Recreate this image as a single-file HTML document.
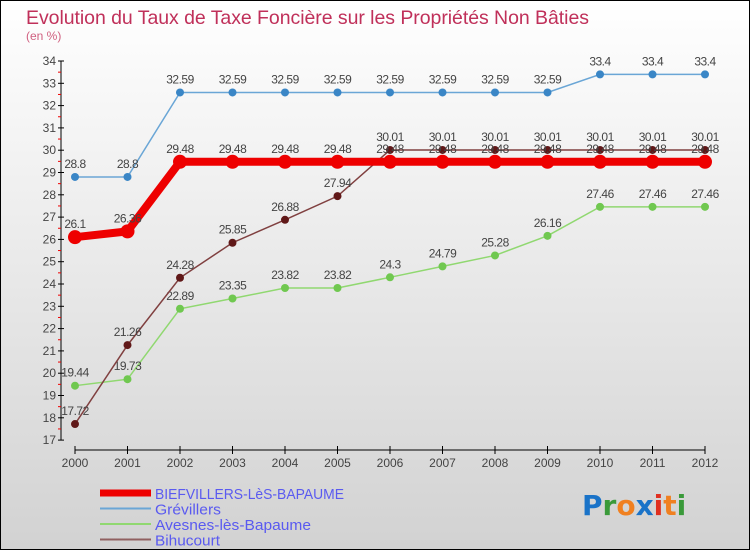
<!DOCTYPE html>
<html><head><meta charset="utf-8"><style>
body{margin:0}
#c{width:750px;height:550px;position:relative;font-family:"Liberation Sans",sans-serif;}
</style></head><body>
<div id="c">
<svg id="s" width="750" height="550" xmlns="http://www.w3.org/2000/svg">
<defs><linearGradient id="bg" x1="0" y1="0" x2="0" y2="1"><stop offset="0" stop-color="#ffffff"/><stop offset="1" stop-color="#d2d2d2"/></linearGradient></defs>
<rect x="0.5" y="0.5" width="749" height="549" fill="url(#bg)" stroke="#000"/>
<text x="26" y="24" font-size="19.5" fill="#c0305a" textLength="563">Evolution du Taux de Taxe Foncière sur les Propriétés Non Bâties</text>
<text x="26" y="40" font-size="12" fill="#d06080">(en %)</text>
<g id="axes"></g><g id="series"></g><g id="legend"></g>
<text x="582" y="515" font-size="28" font-weight="bold" font-family="DejaVu Sans,sans-serif"><tspan fill="#1a73c8">P</tspan><tspan fill="#3a9a3a">r</tspan><tspan fill="#f08020">o</tspan><tspan fill="#1a73c8">x</tspan><tspan fill="#e03020">i</tspan><tspan fill="#f08020">t</tspan><tspan fill="#3a9a3a">i</tspan></text>
</svg></div>
<script>
const years=[2000,2001,2002,2003,2004,2005,2006,2007,2008,2009,2010,2011,2012];
const biefvillers=[26.1,26.36,29.48,29.48,29.48,29.48,29.48,29.48,29.48,29.48,29.48,29.48,29.48];
const grevillers=[28.8,28.8,32.59,32.59,32.59,32.59,32.59,32.59,32.59,32.59,33.4,33.4,33.4];
const avesnes=[19.44,19.73,22.89,23.35,23.82,23.82,24.3,24.79,25.28,26.16,27.46,27.46,27.46];
const bihucourt=[17.72,21.26,24.28,25.85,26.88,27.94,30.01,30.01,30.01,30.01,30.01,30.01,30.01];
const yTicks=[17,18,19,20,21,22,23,24,25,26,27,28,29,30,31,32,33,34];
const NS="http://www.w3.org/2000/svg";
const X=i=>75+i*52.5, Y=v=>61+(34-v)*22.3;
function mk(p,t,a){const e=document.createElementNS(NS,t);for(const k in a)e.setAttribute(k,a[k]);p.appendChild(e);return e;}
const ax=document.getElementById('axes');
let e=mk(ax,'line',{x1:61,y1:Y(34),x2:61,y2:Y(17),stroke:'#000'});


e=mk(ax,'line',{x1:75,y1:450,x2:X(12),y2:450,stroke:'#000'});


yTicks.forEach(v=>{mk(ax,'line',{x1:58,y1:Y(v),x2:64,y2:Y(v),stroke:'#000'});
 if(v<34)mk(ax,'line',{x1:58,y1:Y(v+0.5),x2:61,y2:Y(v+0.5),stroke:'#e00'});
 const t=mk(ax,'text',{x:56,y:Y(v)+4,'text-anchor':'end','font-size':12,fill:'#444'});t.textContent=v;
 
 });
years.forEach((y,i)=>{mk(ax,'line',{x1:X(i),y1:446,x2:X(i),y2:454,stroke:'#000'});
 const t=mk(ax,'text',{x:X(i),y:467,'text-anchor':'middle','font-size':12,fill:'#444'});t.textContent=y;
 
 });
const sg=document.getElementById('series');
const defs=[
 {d:grevillers,c:'#6aa6d6',m:'#3a86c6',w:1.5,r:4,n:'grevillers'},
 {d:avesnes,c:'#90d870',m:'#70c850',w:1.5,r:4,n:'avesnes'},
 {d:bihucourt,c:'#804040',m:'#601818',w:1.5,r:4,n:'bihucourt'},
 {d:biefvillers,c:'#ee0000',m:'#ee0000',w:8,r:7,n:'biefvillers'}];
defs.forEach(s=>{const g=mk(sg,'g',{});
 
 
 mk(g,'polyline',{points:s.d.map((v,i)=>X(i)+','+Y(v)).join(' '),fill:'none',stroke:s.c,'stroke-width':s.w});
 s.d.forEach((v,i)=>{const c=mk(g,'circle',{cx:X(i),cy:Y(v),r:s.r,fill:s.m});
  
  
  const t=mk(g,'text',{x:X(i),y:Y(v)-9,'text-anchor':'middle','font-size':12,fill:'#444','letter-spacing':'-0.5'});t.textContent=v;
  
  });});
const lg=document.getElementById('legend');
const leg=[['BIEFVILLERS-LèS-BAPAUME','#ee0000',7,189],['Grévillers','#6aa6d6',2,66],['Avesnes-lès-Bapaume','#90d870',2,156],['Bihucourt','#906060',2,65]];
leg.forEach((l,i)=>{const y=493+i*15.5;const g=mk(lg,'g',{});
 
 
 mk(g,'line',{x1:100,y1:y,x2:151,y2:y,stroke:l[1],'stroke-width':l[2]});
 const t=mk(g,'text',{x:155,y:y+6,'font-size':15,fill:'#5a5af0',textLength:l[3],lengthAdjust:'spacingAndGlyphs'});t.textContent=l[0];});
</script>
</body></html>
